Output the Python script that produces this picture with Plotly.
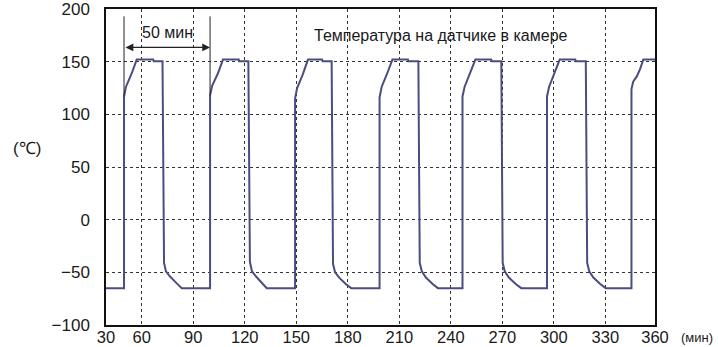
import plotly.graph_objects as go

# Time (min) and chamber sensor temperature (°C)
time_min = [
    39.2,
    49.7, 49.7, 50.8, 54.2, 57.1, 66.7, 67.0, 72.1, 73.0, 74.1, 76.5, 80.4, 83.3,
    99.8, 99.8, 101.0, 104.4, 107.3, 116.5, 116.8, 122.1, 123.0, 124.2, 126.6, 130.3, 132.8,
    149.3, 149.3, 150.5, 153.8, 156.8, 165.0, 165.3, 170.6, 171.4, 172.6, 175.0, 178.8, 182.0,
    198.5, 198.5, 199.7, 203.0, 206.0, 215.0, 215.3, 221.1, 221.9, 223.1, 225.5, 229.4, 232.5,
    246.8, 246.8, 248.0, 251.3, 254.3, 263.5, 263.8, 269.4, 270.2, 271.4, 273.8, 277.8, 281.0,
    296.0, 296.0, 297.2, 300.5, 303.4, 312.5, 312.8, 318.6, 319.4, 320.6, 323.0, 327.0, 330.2,
    345.2, 345.2, 346.2, 348.3, 350.2, 352.1, 358.9,
]
temp_c = [
    -65,
    -65, 117, 126, 139, 152, 152, 150.5, 150.5, -41, -49, -54, -60.5, -65,
    -65, 118, 127, 139, 152, 152, 150.5, 150.5, -40, -49, -54, -60.5, -65,
    -65, 115, 125, 138, 152, 152, 150.5, 150.5, -42, -50, -55, -61, -65,
    -65, 116, 126, 139, 152, 152, 150.5, 150.5, -41, -49, -55, -61, -65,
    -65, 117, 126, 139, 152, 152, 150.5, 150.5, -41, -49, -55, -61, -65,
    -65, 117, 126, 139, 152, 152, 150.5, 150.5, -41, -49, -55, -61, -65,
    -65, 124, 131, 136, 143, 152, 152,
]

x_range = [39.2, 358.9]
x_tickvals = [39.2, 60, 90, 120, 150, 180, 210, 240, 270, 300, 330, 358.9]
x_ticktext = ["30", "60", "90", "120", "150", "180", "210", "240", "270", "300", "330", "360"]
y_tickvals = [-100, -50, 0, 50, 100, 150, 200]

period_start = 49.7
period_end = 99.8

FONT = "Liberation Sans, Arial, Helvetica, sans-serif"
TXT = "#1a1a1a"

fig = go.Figure()
fig.add_trace(go.Scatter(
    x=time_min, y=temp_c, mode="lines",
    line=dict(color="#4b4d80", width=2),
    hoverinfo="skip", showlegend=False,
))

# marker lines for the 50 min period
for xv, ylow in [(period_start, 117), (period_end, 118)]:
    fig.add_shape(type="line", x0=xv, x1=xv, y0=ylow, y1=193,
                  xref="x", yref="y", line=dict(color="#222", width=1))

fig.add_annotation(x=period_end, y=163.5, ax=period_start, ay=163.5,
                   xref="x", yref="y", axref="x", ayref="y",
                   text="", showarrow=True, arrowhead=2, arrowside="end+start",
                   arrowsize=1.2, arrowwidth=1.3, arrowcolor="#222")
fig.add_annotation(x=75.3, y=178, xref="x", yref="y", text="50 мин",
                   showarrow=False, font=dict(family=FONT, size=16, color=TXT))
fig.add_annotation(x=234.3, y=175, xref="x", yref="y",
                   text="Температура на датчике в камере",
                   showarrow=False, font=dict(family=FONT, size=16, color=TXT))
fig.add_annotation(x=-0.144, y=0.559, xref="paper", yref="paper", text="(℃)",
                   xanchor="center", yanchor="middle",
                   showarrow=False, font=dict(family=FONT, size=17, color=TXT))
fig.add_annotation(x=1.0765, y=-0.040, xref="paper", yref="paper", text="(мин)",
                   xanchor="center", yanchor="middle",
                   showarrow=False, font=dict(family=FONT, size=13, color=TXT))

fig.update_xaxes(
    range=x_range, tickmode="array", tickvals=x_tickvals, ticktext=x_ticktext,
    showgrid=True, gridcolor="#333", gridwidth=1, griddash="3px,3px",
    showline=True, linecolor="#111", linewidth=2, mirror=True,
    ticks="", ticklabelstandoff=-4, zeroline=False, automargin=False,
    ticklabeloverflow="allow",
    tickfont=dict(family=FONT, size=16.5, color=TXT),
)
fig.update_yaxes(
    range=[-100, 200], tickmode="array", tickvals=y_tickvals,
    showgrid=True, gridcolor="#333", gridwidth=1, griddash="3px,3px",
    showline=True, linecolor="#111", linewidth=1.5, mirror=True,
    ticks="", ticklabelstandoff=11, zeroline=False, automargin=False,
    ticklabeloverflow="allow",
    tickfont=dict(family=FONT, size=17, color=TXT),
)
fig.update_layout(
    width=718, height=347,
    margin=dict(l=106, r=63, t=9, b=22),
    paper_bgcolor="white", plot_bgcolor="white",
    font=dict(family=FONT, color=TXT),
)
fig.write_html("out.html", config={"displayModeBar": False},
               post_script="document.body.style.margin='0';")
